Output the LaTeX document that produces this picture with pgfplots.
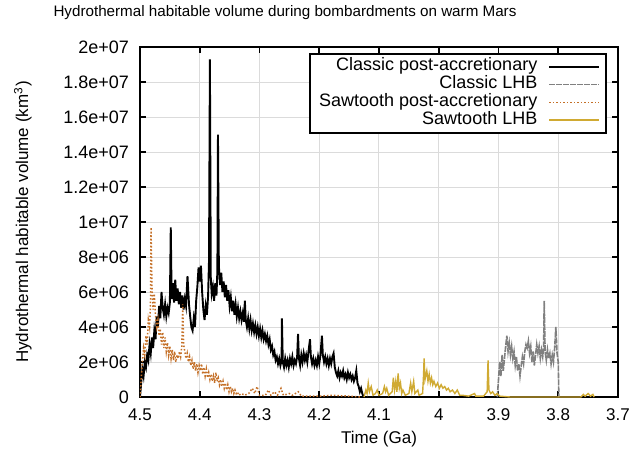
\documentclass[border=0pt]{standalone}
\usepackage{pgfplots}
\pgfplotsset{compat=1.18}
\usepackage{fontspec}
\setmainfont{Liberation Sans}
\definecolor{sawpost}{RGB}{196,112,40}
\definecolor{sawlhb}{RGB}{208,170,50}
\definecolor{clhb}{RGB}{128,128,128}
\begin{document}
\fontsize{8.5}{10}\selectfont
\begin{tikzpicture}
\begin{axis}[
  scale only axis, width=239pt, height=175pt,
  x dir=reverse, xmin=3.7, xmax=4.5, ymin=0, ymax=20,
  xtick={3.7,3.8,3.9,4,4.1,4.2,4.3,4.4,4.5},
  xticklabels={3.7,3.8,3.9,4,4.1,4.2,4.3,4.4,4.5},
  ytick={0,2,4,6,8,10,12,14,16,18,20},
  yticklabels={0,2e+06,4e+06,6e+06,8e+06,1e+07,1.2e+07,1.4e+07,1.6e+07,1.8e+07,2e+07},
  /pgf/number format/assume math mode=true,
  tick align=inside, major tick length=3pt,
  tick style={black, line width=0.8pt},
  axis line style={line width=0.9pt},
  grid=major, major grid style={gray!28, line width=0.5pt},
  yticklabel style={xshift=-2.5pt, font=\fontsize{9}{10}\selectfont},
  xticklabel style={yshift=-3pt},
  xlabel={Time (Ga)},
  xlabel style={at={(axis description cs:0.5,-0.12)}, anchor=center},
  ylabel={Hydrothermal habitable volume (km\textsuperscript{3})},
  ylabel style={at={(axis description cs:-0.245,0.5)}, anchor=center},
  legend cell align=right, legend plot pos=right,
  legend image code/.code={\draw[#1] (0pt,0pt) -- (25pt,0pt);},
  legend style={at={(axis description cs:0.977,0.983)}, anchor=north east,
    draw=black, line width=0.8pt, inner xsep=3pt, inner ysep=2pt, row sep=0pt,
    font=\fontsize{9}{9.5}\selectfont,
    nodes={inner ysep=0pt, inner xsep=1.5pt, text height=6.5pt, text depth=2.4pt},
    /tikz/every odd column/.append style={column sep=4pt}},
]
% Classic post-accretionary
\addplot[black, line width=0.95pt] table {
4.500 0.0
4.498 0.8
4.496 1.6
4.494 1.2
4.492 2.0
4.490 1.7
4.488 2.4
4.486 2.1
4.484 3.0
4.482 2.5
4.480 3.4
4.478 2.8
4.476 3.8
4.474 3.3
4.472 4.6
4.470 4.0
4.468 5.2
4.466 4.5
4.464 6.0
4.462 5.1
4.460 4.7
4.458 5.3
4.456 4.6
4.454 5.1
4.452 4.8
4.450 5.4
4.4485 9.7
4.447 5.6
4.445 6.5
4.443 5.4
4.441 6.7
4.439 5.5
4.437 6.2
4.435 5.3
4.433 6.0
4.431 5.1
4.429 5.8
4.427 5.0
4.425 5.6
4.423 5.2
4.4205 6.9
4.418 5.3
4.416 4.6
4.414 4.0
4.412 3.8
4.410 4.5
4.408 4.0
4.406 5.5
4.404 6.3
4.402 7.4
4.400 6.6
4.398 7.5
4.396 6.0
4.394 5.0
4.392 4.4
4.390 5.2
4.388 4.7
4.386 5.8
4.3845 7.8
4.3830 19.3
4.3815 6.8
4.380 5.9
4.378 6.3
4.376 5.5
4.374 6.5
4.372 5.8
4.3705 7.2
4.3695 15.0
4.368 7.5
4.366 6.4
4.364 7.1
4.362 6.0
4.360 6.6
4.358 5.7
4.356 6.4
4.354 5.5
4.352 6.1
4.350 5.2
4.348 5.7
4.346 4.9
4.344 5.5
4.342 4.7
4.340 5.3
4.338 4.6
4.336 5.1
4.334 4.5
4.332 4.9
4.330 4.4
4.328 4.8
4.326 4.3
4.3245 5.5
4.323 4.4
4.321 4.0
4.319 4.5
4.317 3.9
4.315 4.4
4.313 3.8
4.311 4.2
4.309 3.7
4.307 4.1
4.305 3.6
4.303 4.0
4.301 3.5
4.299 3.9
4.297 3.4
4.295 3.8
4.293 3.3
4.291 3.6
4.289 3.2
4.287 3.5
4.285 3.0
4.283 3.3
4.281 2.7
4.279 2.9
4.277 2.4
4.275 2.6
4.273 2.1
4.271 2.3
4.269 1.9
4.267 2.2
4.265 1.8
4.263 2.1
4.2625 4.5
4.261 2.0
4.259 1.7
4.257 2.2
4.255 1.8
4.253 2.1
4.251 1.7
4.249 2.2
4.247 1.9
4.245 2.3
4.243 1.8
4.241 2.1
4.239 1.9
4.237 2.3
4.2355 3.6
4.234 2.2
4.232 1.8
4.230 2.4
4.228 2.0
4.226 2.5
4.224 2.1
4.222 2.4
4.220 2.0
4.218 2.6
4.2155 3.3
4.214 2.3
4.212 1.9
4.210 2.2
4.208 1.8
4.206 2.1
4.204 1.8
4.202 2.3
4.200 1.9
4.198 2.4
4.1955 3.5
4.194 2.4
4.192 2.0
4.190 2.3
4.188 1.9
4.186 2.2
4.184 1.8
4.182 2.2
4.180 1.9
4.178 2.3
4.176 2.5
4.174 1.7
4.172 1.4
4.170 1.2
4.168 1.5
4.166 1.1
4.164 1.4
4.162 1.2
4.160 1.5
4.158 1.1
4.156 1.3
4.154 1.0
4.152 1.4
4.150 1.1
4.148 1.3
4.146 1.0
4.144 1.2
4.142 0.9
4.140 1.1
4.138 1.5
4.136 0.8
4.134 0.6
4.132 0.3
4.130 0.5
4.128 0.2
4.126 0.0
};
\addlegendentry{Classic post-accretionary}
% Classic LHB
\addplot[clhb, line width=0.8pt, dash pattern=on 3pt off 0.5pt] table {
3.902 0.0
3.900 1.0
3.898 2.0
3.896 1.2
3.894 2.4
3.892 1.5
3.890 2.2
3.888 2.9
3.886 3.5
3.884 2.6
3.882 3.1
3.880 2.4
3.878 2.9
3.876 2.2
3.874 2.6
3.872 1.8
3.870 2.3
3.868 1.5
3.866 1.9
3.864 1.2
3.862 1.8
3.860 2.3
3.858 1.9
3.856 2.6
3.854 3.0
3.852 2.8
3.850 3.2
3.848 2.5
3.846 2.9
3.844 2.0
3.842 2.6
3.840 1.8
3.838 2.4
3.836 3.0
3.834 2.5
3.832 2.9
3.830 2.2
3.828 2.7
3.826 2.3
3.8245 2.8
3.8235 5.5
3.822 2.6
3.820 2.1
3.818 2.7
3.816 2.2
3.814 2.5
3.812 1.9
3.810 2.4
3.808 2.0
3.806 2.8
3.804 4.0
3.802 2.5
3.800 2.0
3.799 0.0
};
\addlegendentry{Classic LHB}
% Sawtooth post-accretionary
\addplot[sawpost, line width=0.75pt, densely dotted] table {
4.500 0.0
4.498 1.0
4.496 2.0
4.494 2.8
4.492 2.4
4.490 3.5
4.488 3.0
4.486 4.4
4.484 4.0
4.4825 5.2
4.4815 9.7
4.480 6.3
4.478 5.0
4.476 5.9
4.474 4.6
4.472 4.0
4.470 4.4
4.468 3.5
4.466 3.9
4.464 3.0
4.462 3.7
4.460 2.8
4.458 3.4
4.456 2.6
4.454 3.1
4.452 2.4
4.450 2.9
4.448 2.2
4.446 2.7
4.444 2.1
4.442 2.6
4.440 2.0
4.438 2.4
4.436 2.2
4.434 2.6
4.432 2.3
4.430 2.9
4.4285 5.3
4.427 3.0
4.425 2.6
4.423 2.2
4.421 2.5
4.419 2.0
4.417 2.3
4.415 1.8
4.413 2.1
4.411 1.6
4.409 2.0
4.407 1.5
4.405 1.9
4.403 1.4
4.401 1.8
4.399 1.5
4.397 1.9
4.395 1.3
4.393 1.7
4.391 1.2
4.389 1.6
4.387 1.1
4.385 1.4
4.383 1.0
4.381 1.3
4.379 0.9
4.377 1.2
4.375 0.8
4.373 1.4
4.371 0.9
4.369 1.1
4.367 0.7
4.365 1.0
4.363 0.6
4.361 0.9
4.359 0.5
4.357 0.8
4.355 0.4
4.353 0.7
4.351 0.3
4.349 0.6
4.347 0.3
4.345 0.5
4.343 0.2
4.341 0.4
4.339 0.2
4.337 0.3
4.335 0.1
4.330 0.2
4.325 0.1
4.318 0.2
4.312 0.5
4.308 0.2
4.304 0.6
4.300 0.1
4.290 0.1
4.285 0.4
4.281 0.1
4.275 0.3
4.270 0.1
4.264 0.5
4.260 0.1
4.250 0.2
4.245 0.1
4.235 0.3
4.230 0.05
4.200 0.05
4.180 0.1
4.150 0.05
4.130 0.0
};
\addlegendentry{Sawtooth post-accretionary}
% Sawtooth LHB
\addplot[sawlhb, line width=0.7pt] table {
4.125 0.0
4.122 0.4
4.120 0.2
4.118 0.8
4.116 0.3
4.113 0.6
4.110 0.1
4.106 0.2
4.103 0.4
4.100 0.1
4.094 0.2
4.091 0.6
4.089 0.3
4.087 0.5
4.084 0.1
4.078 0.3
4.076 1.1
4.074 0.4
4.072 0.9
4.070 0.3
4.068 1.35
4.066 0.5
4.064 0.8
4.062 0.2
4.060 0.4
4.056 0.1
4.050 0.2
4.047 0.8
4.045 0.3
4.042 0.9
4.040 0.2
4.035 0.4
4.033 0.1
4.027 0.2
4.0255 1.2
4.0245 2.2
4.023 1.0
4.020 1.5
4.018 0.9
4.016 1.3
4.014 0.8
4.012 1.1
4.010 0.7
4.008 0.9
4.005 0.6
4.002 0.8
3.999 0.5
3.996 0.7
3.993 0.5
3.990 0.6
3.987 0.4
3.984 0.5
3.981 0.3
3.977 0.4
3.973 0.2
3.969 0.4
3.965 0.1
3.960 0.1
3.950 0.05
3.940 0.2
3.938 0.05
3.925 0.05
3.919 0.3
3.9175 2.1
3.916 0.4
3.913 0.2
3.910 0.3
3.906 0.1
3.902 0.2
3.898 0.05
3.880 0.0
3.762 0.0
3.758 0.15
3.755 0.05
3.750 0.2
3.746 0.05
3.742 0.15
3.740 0.0
};
\addlegendentry{Sawtooth LHB}
\end{axis}
\node[font=\fontsize{7.6}{9}\selectfont, inner sep=0pt] at ([shift={(72.5pt,17pt)}]current axis.north west) {Hydrothermal habitable volume during bombardments on warm Mars};
\pgfresetboundingbox
\path ([shift={(-70pt,-27.5pt)}]current axis.south west) rectangle ([shift={(9pt,23.5pt)}]current axis.north east);
\end{tikzpicture}
\end{document}
